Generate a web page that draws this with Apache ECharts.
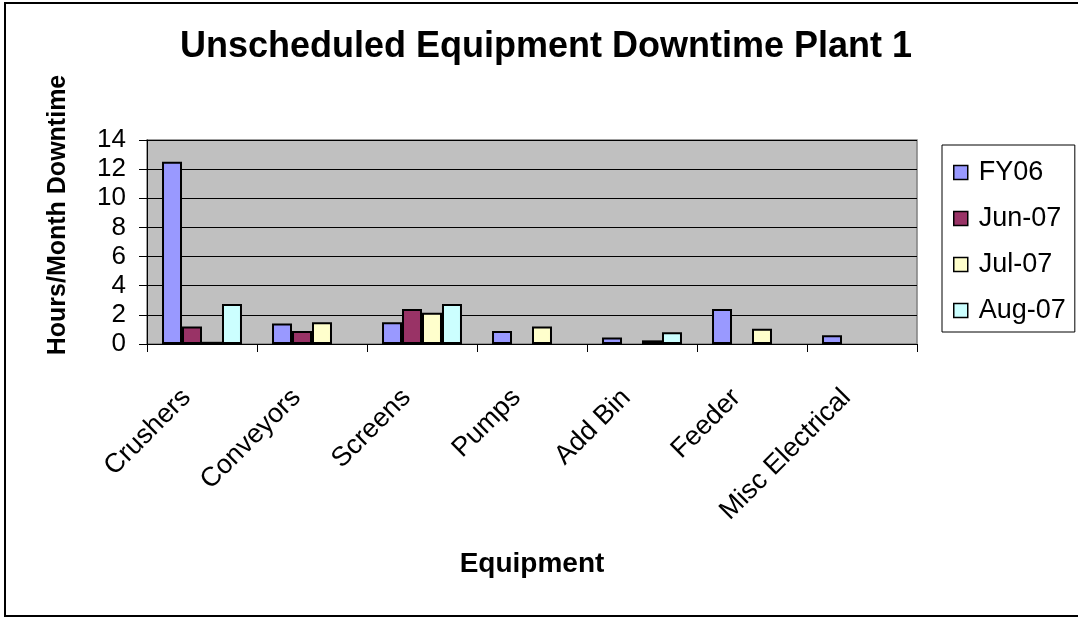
<!DOCTYPE html>
<html>
<head>
<meta charset="utf-8">
<script src="https://cdn.jsdelivr.net/npm/echarts@6/dist/echarts.min.js"></script>
<style>html,body{margin:0;padding:0;background:#fff;}#c{width:1078px;height:617px;}</style>
</head>
<body>
<div id="c"></div>
<script>
const categories = ['Crushers', 'Conveyors', 'Screens', 'Pumps', 'Add Bin', 'Feeder', 'Misc Electrical'];
const seriesNames = ['FY06', 'Jun-07', 'Jul-07', 'Aug-07'];
const fy06 = [12.5, 1.4, 1.5, 0.9, 0.45, 2.4, 0.6];
const jun07 = [1.2, 0.9, 2.4, null, null, null, null];
const jul07 = [0.15, 1.5, 2.15, 1.2, 0.25, 1.05, null];
const aug07 = [2.75, null, 2.75, null, 0.8, null, null];
const colors = ['#9999FF', '#993366', '#FFFFCC', '#CCFFFF'];
const values = [fy06, jun07, jul07, aug07];

const FONT = 'Liberation Sans, Arial, sans-serif';
const chart = echarts.init(document.getElementById('c'), null, {renderer: 'canvas'});
chart.setOption({
  animation: false,
  backgroundColor: '#fff',
  textStyle: {fontFamily: FONT, color: '#000'},
  title: {
    text: 'Unscheduled Equipment Downtime Plant 1',
    left: 541, top: 24, textAlign: 'center',
    textStyle: {fontFamily: FONT, fontSize: 36, fontWeight: 'bold', color: '#000'}
  },
  graphic: [{
    type: 'rect', z: -1, silent: true,
    shape: {x: 5, y: 3, width: 1080, height: 613},
    style: {fill: 'none', stroke: '#000', lineWidth: 2}
  }],
  legend: {
    orient: 'vertical', left: 942, top: 145,
    data: seriesNames,
    icon: 'rect', itemWidth: 14, itemHeight: 14, itemGap: 19,
    padding: [14, 9, 8, 11],
    borderColor: '#000', borderWidth: 1,
    itemStyle: {borderColor: '#000', borderWidth: 1.5},
    textStyle: {fontFamily: FONT, fontSize: 27, color: '#000', padding: [0, 0, 0, 6]}
  },
  grid: {
    left: 147, right: 161, top: 140, bottom: 273,
    show: true, backgroundColor: '#C0C0C0', borderColor: '#808080', borderWidth: 1.5
  },
  xAxis: {
    type: 'category', data: categories,
    name: 'Equipment', nameLocation: 'middle', nameGap: 206,
    nameTextStyle: {fontFamily: FONT, fontSize: 28, fontWeight: 'bold', color: '#000'},
    axisLine: {lineStyle: {color: '#000', width: 1}},
    axisTick: {show: true, alignWithLabel: false, length: 8, lineStyle: {color: '#000'}},
    axisLabel: {interval: 0, rotate: 45, margin: 34, padding: [0, 22, 0, 0],
      fontFamily: FONT, fontSize: 27, color: '#000'}
  },
  yAxis: {
    type: 'value', min: 0, max: 14, interval: 2,
    name: 'Hours/Month Downtime', nameLocation: 'middle', nameGap: 76, nameRotate: 90,
    nameTextStyle: {fontFamily: FONT, fontSize: 25, fontWeight: 'bold', color: '#000', padding: [0, 0, 0, 54]},
    axisLine: {show: true, lineStyle: {color: '#000', width: 1}},
    axisTick: {show: true, length: 8, lineStyle: {color: '#000'}},
    axisLabel: {margin: 21, fontFamily: FONT, fontSize: 26, color: '#000'},
    splitLine: {show: true, lineStyle: {color: '#000', width: 1}}
  },
  series: seriesNames.map((n, i) => ({
    name: n, type: 'bar', data: values[i],
    barGap: '0%', barCategoryGap: '27.3%',
    itemStyle: {color: colors[i], borderColor: '#000', borderWidth: 2}
  }))
});
</script>
</body>
</html>
